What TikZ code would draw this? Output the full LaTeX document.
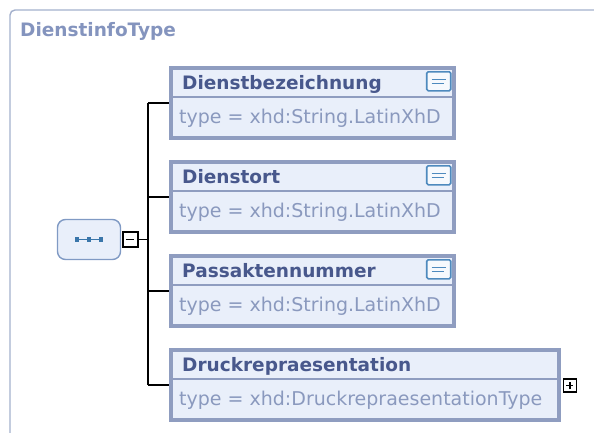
\documentclass[tikz,border=0pt]{standalone}
\usepackage{fontspec}
\setmainfont{DejaVu Sans}
\usetikzlibrary{positioning}

\definecolor{outerline}{RGB}{163,176,204}
\definecolor{outertext}{RGB}{132,148,190}
\definecolor{boxline}{RGB}{143,157,192}
\definecolor{boxfill}{RGB}{233,239,250}
\definecolor{nametext}{RGB}{72,88,140}
\definecolor{typetext}{RGB}{138,153,190}
\definecolor{iconline}{RGB}{78,138,190}
\definecolor{seqline}{RGB}{128,154,196}
\definecolor{seqdot}{RGB}{58,118,170}

\tikzset{
  elem/.style={draw=boxline,fill=boxfill,line width=3.5pt,minimum height=70pt,inner sep=0pt,anchor=north west},
  elemname/.style={anchor=base west,inner sep=0pt,text=nametext,font=\bfseries\fontsize{18.5}{20}\selectfont},
  elemtype/.style={anchor=base west,inner sep=0pt,text=typetext,font=\fontsize{19}{20}\selectfont},
  docicon/.style={draw=iconline,fill=white!60!boxfill,line width=1.6pt,rounded corners=1.5pt,minimum width=24pt,minimum height=19pt,inner sep=0pt},
  togglebox/.style={draw=black,fill=white,line width=1.8pt,inner sep=0pt},
  conn/.style={line width=1.8pt,black}
}

\begin{document}
\begin{tikzpicture}[x=1pt,y=-1pt]
  \useasboundingbox (0,0) rectangle (594,432);
  % outer type frame
  \draw[outerline,line width=1.4pt,rounded corners=5pt] (620,10) -- (10,10) -- (10,450);
  \node[anchor=base west,inner sep=0pt,text=outertext,font=\bfseries\fontsize{18.5}{20}\selectfont] (typename) at (20,36) {DienstinfoType};

  % sequence compositor
  \node[draw=seqline,fill=boxfill,line width=1.4pt,rounded corners=8pt,minimum width=63pt,minimum height=40pt] (seq) at (89,239.5) {};
  \draw[seqdot,line width=0.9pt] ([xshift=-12pt]seq.center) -- ([xshift=12pt]seq.center);
  \foreach \dx in {-12,0,12}
    \fill[seqdot] ([xshift=\dx pt]seq.center) +(-2.3pt,-2.3pt) rectangle +(2.3pt,2.3pt);
  \node[togglebox,minimum size=15pt,right=0.5pt of seq] (seqminus) {};
  \draw[line width=1.5pt] ([xshift=-4pt]seqminus.center) -- ([xshift=4pt]seqminus.center);

  % elements
  \node[elem,minimum width=283pt] (bez) at (169,66) {};
  \node[elem,minimum width=283pt] (ort) at (169,160) {};
  \node[elem,minimum width=283pt] (pass) at (169,254) {};
  \node[elem,minimum width=388pt] (druck) at (169,348) {};

  \foreach \e/\ename/\etype in {bez/Dienstbezeichnung/String.LatinXhD,ort/Dienstort/String.LatinXhD,pass/Passaktennummer/String.LatinXhD,druck/Druckrepraesentation/DruckrepraesentationType}{
    \draw[boxline,line width=1.4pt] ([yshift=-31pt]\e.north west) -- ([yshift=-31pt]\e.north east);
    \node[elemname] at ([xshift=13pt,yshift=-23pt]\e.north west) {\ename};
    \node[elemtype] at ([xshift=10pt,yshift=-57pt]\e.north west) {type = xhd:\etype};
  }

  % documentation icons
  \foreach \e in {bez,ort,pass}{
    \node[docicon,anchor=north east] (\e doc) at ([xshift=-4pt,yshift=-5pt]\e.north east) {};
    \draw[iconline,line width=1.3pt] ([xshift=-7pt,yshift=2pt]\e doc.center) -- ([xshift=7pt,yshift=2pt]\e doc.center);
    \draw[iconline,line width=1.3pt] ([xshift=-7pt,yshift=-2.5pt]\e doc.center) -- ([xshift=5pt,yshift=-2.5pt]\e doc.center);
  }

  % expand toggle of Druckrepraesentation
  \node[togglebox,minimum size=13pt,anchor=west] (druckplus) at ([xshift=2pt,yshift=-1pt]druck.east) {};
  \draw[line width=1.3pt] ([xshift=-3.5pt]druckplus.center) -- ([xshift=3.5pt]druckplus.center);
  \draw[line width=1.3pt] ([yshift=-3.5pt]druckplus.center) -- ([yshift=3.5pt]druckplus.center);

  % connectors
  \coordinate (spine) at (148,240);
  \draw[conn] (seqminus.east) -- (spine |- seqminus.east);
  \draw[conn] (spine |- bez.west) -- (spine |- druck.west);
  \foreach \e in {bez,ort,pass,druck}
    \draw[conn] (spine |- \e.west) -- (\e.west);
\end{tikzpicture}
\end{document}
